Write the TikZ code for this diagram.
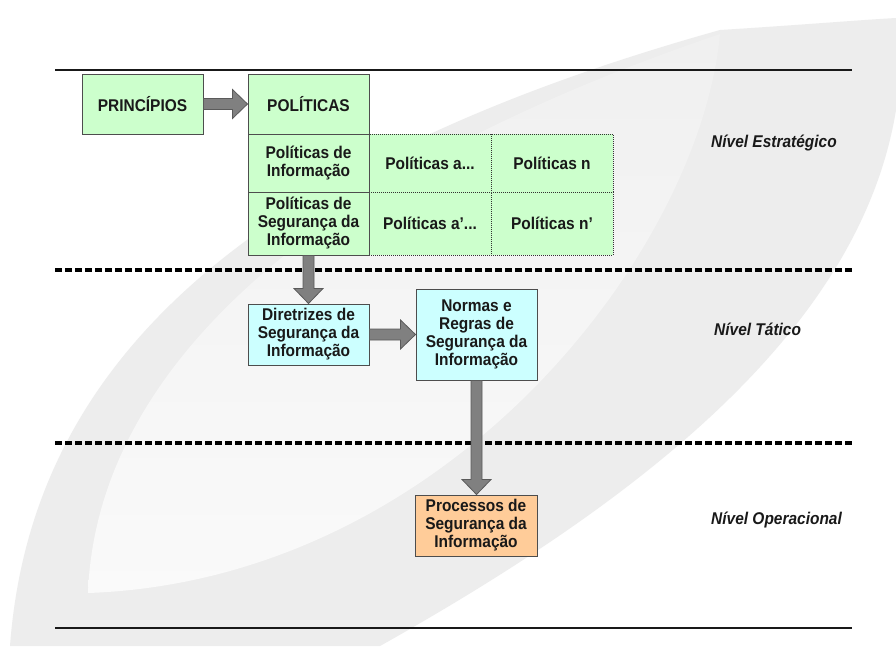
\documentclass[tikz,border=0pt]{standalone}
\usepackage{fontspec}
\setmainfont{Liberation Sans}[FakeStretch=0.91]
\usetikzlibrary{calc}
\definecolor{boxgreen}{HTML}{CCFFCC}
\definecolor{boxcyan}{HTML}{CCFFFF}
\definecolor{boxorange}{HTML}{FFCC99}
\definecolor{edgegray}{HTML}{4D4D4D}
\definecolor{arrowgray}{HTML}{808080}
\definecolor{arrowedge}{HTML}{5A5A5A}
\definecolor{bandgray}{HTML}{EDEDED}
\definecolor{lensgray}{HTML}{F0F0F0}

% fat block arrow, left to right, from the east side of #1 to the west side of #2
\newcommand{\hfatarrow}[2]{%
  \coordinate (#1-#2-tip) at (#2.west |- #1.east);
  \filldraw[fatarrow] ($(#1.east)+(0,-5.5)$) -- ($(#1-#2-tip)+(-15,-5.5)$)
    -- ($(#1-#2-tip)+(-15,-14.5)$) -- (#1-#2-tip) -- ($(#1-#2-tip)+(-15,14.5)$)
    -- ($(#1-#2-tip)+(-15,5.5)$) -- ($(#1.east)+(0,5.5)$) -- cycle;}
% fat block arrow, top to bottom, from the south side of #1 to the north side of #2
\newcommand{\vfatarrow}[2]{%
  \coordinate (#1-#2-tip) at (#1.south |- #2.north);
  \filldraw[fatarrow] ($(#1.south)+(-5.5,0)$) -- ($(#1-#2-tip)+(-5.5,-15)$)
    -- ($(#1-#2-tip)+(-14.5,-15)$) -- (#1-#2-tip) -- ($(#1-#2-tip)+(14.5,-15)$)
    -- ($(#1-#2-tip)+(5.5,-15)$) -- ($(#1.south)+(5.5,0)$) -- cycle;}

\tikzset{
  boxtext/.style={font=\bfseries\fontsize{17}{18}\selectfont, text=black!90, align=center},
  box/.style={boxtext, draw=edgegray, line width=1pt, minimum width=121pt, inner sep=0pt},
  greenbox/.style={box, fill=boxgreen},
  cellbox/.style={box, fill=boxgreen, draw=black!80, dash pattern=on 1pt off 1pt, minimum width=122pt},
  cyanbox/.style={box, fill=boxcyan},
  orangebox/.style={box, fill=boxorange},
  levellabel/.style={font=\bfseries\itshape\fontsize{17}{18}\selectfont, text=black!90, anchor=west, inner sep=0pt},
  fatarrow/.style={fill=arrowgray, draw=arrowedge, line width=0.8pt, line join=miter},
  rule/.style={draw=black!90, line width=1.3pt},
  levelsep/.style={draw=black, line width=3.3pt, dash pattern=on 6.5pt off 3.5pt}
}

\begin{document}
\begin{tikzpicture}[x=1pt, y=-1pt]
\useasboundingbox (0,0) rectangle (896,646);
\fill[white] (0,0) rectangle (896,646);

% background swoosh
\fill[bandgray] (10,646) .. controls (30,380) and (220,170) .. (720,30)
  .. controls (800,25) and (860,20) .. (896,18) -- (896,110)
  .. controls (860,330) and (640,500) .. (380,646) -- cycle;
\shade[top color=lensgray, bottom color=white!98!black]
  (88,593) .. controls (95,400) and (260,190) .. (720,34)
  .. controls (700,250) and (450,580) .. (88,593) -- cycle;

% horizontal rules and level separators
\draw[rule] (55,70) -- (852,70);
\draw[rule] (55,628) -- (852,628);
\draw[levelsep] (55,270) -- (852,270);
\draw[levelsep] (55,443) -- (852,443);

% strategic level
\node[cellbox, minimum height=58pt] (pa)  at (430,163)   {Políticas a...};
\node[cellbox, minimum height=58pt] (pn)  at (552,163)   {Políticas n};
\node[cellbox, minimum height=63pt] (pa2) at (430,223.5) {Políticas a’...};
\node[cellbox, minimum height=63pt] (pn2) at (552,223.5) {Políticas n’};

\node[greenbox, minimum height=60pt] (prin) at (142.5,104) {PRINCÍPIOS};
\node[greenbox, minimum height=60pt] (pol)  at (308.5,104) {POLÍTICAS};
\node[greenbox, minimum height=58pt] (pinf) at (308.5,163) {Políticas de\\Informação};
\node[greenbox, minimum height=63pt] (psi)  at (308.5,223.5) {Políticas de\\Segurança da\\Informação};

% tactical level
\node[cyanbox, minimum height=61pt] (dir) at (308.5,334.5) {Diretrizes de\\Segurança da\\Informação};
\node[cyanbox, minimum height=91pt] (nor) at (476.5,334.5) {Normas e\\Regras de\\Segurança da\\Informação};

% operational level
\node[orangebox, minimum height=61pt, minimum width=122pt] (proc) at (476,525.5) {Processos de\\Segurança da\\Informação};

% flow
\hfatarrow{prin}{pol}
\vfatarrow{psi}{dir}
\hfatarrow{dir}{nor}
\vfatarrow{nor}{proc}

% level names
\node[levellabel] (lvlE) at (711,143) {Nível Estratégico};
\node[levellabel] (lvlT) at (714,329) {Nível Tático};
\node[levellabel] (lvlO) at (711,520) {Nível Operacional};
\end{tikzpicture}
\end{document}
